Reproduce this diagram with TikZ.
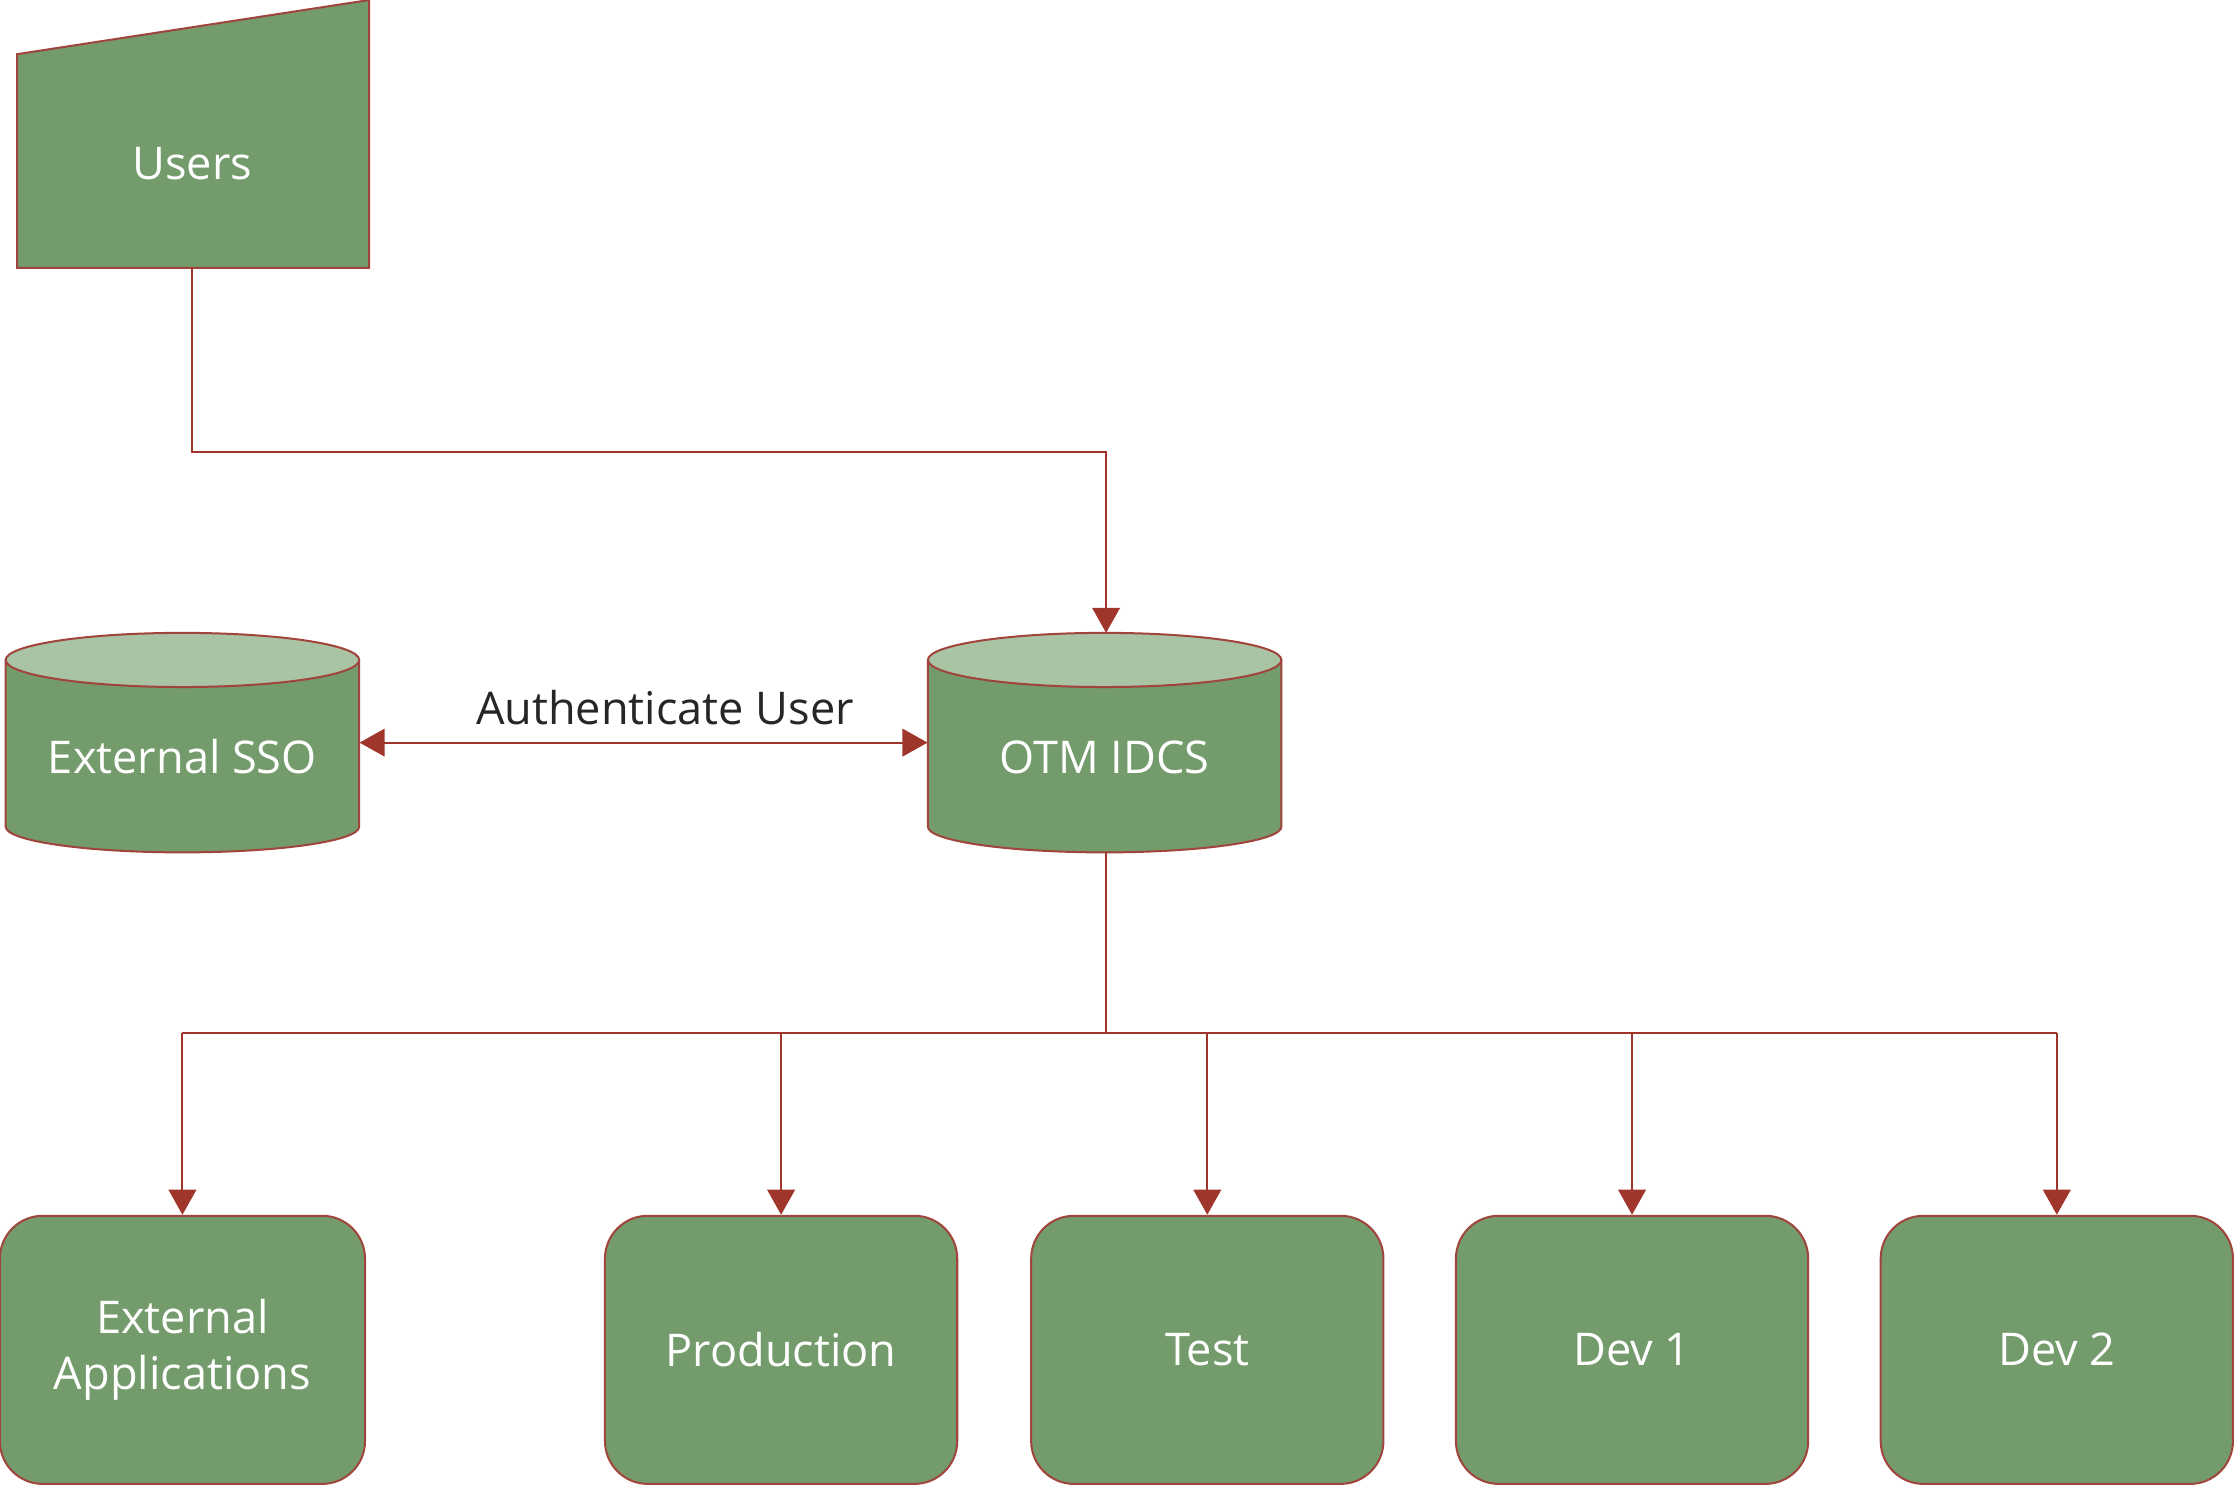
\documentclass[tikz,border=0pt]{standalone}
\usepackage{fontspec}
\setmainfont{Open Sans}
\usetikzlibrary{arrows.meta}
\definecolor{gfill}{HTML}{739B6B}
\definecolor{gtop}{HTML}{A9C4A5}
\definecolor{bord}{HTML}{A0443C}
\definecolor{arr}{HTML}{A0352B}
\tikzset{
  shp/.style={draw=bord,fill=gfill,line width=0.4pt},
  lbl/.style={text=white,font=\fontsize{9}{11}\selectfont,align=center},
  box/.style={shp,rounded corners=0.3cm,minimum width=2.47cm,minimum height=1.88cm,lbl},
  anc/.style={minimum width=2.47cm,minimum height=1.54cm,inner sep=0pt},
  conn/.style={draw=arr,line width=0.4pt},
  tip/.style={-{Triangle[width=5.5pt,length=5pt]}}
}
\begin{document}
\begin{tikzpicture}[x=0.01cm,y=-0.01cm]
\useasboundingbox (0,0) rectangle (1568,1042);
% Users
\draw[shp] (12,38) -- (259,0) -- (259,188) -- (12,188) -- cycle;
\node[lbl] (users) at (135,115) {Users};
\coordinate (ub) at (135,188);
% cylinders
\foreach \cx/\nm/\tx in {128/sso/External SSO,775/otm/OTM IDCS}{
  \draw[shp] (\cx-124,463) -- (\cx-124,580) arc[start angle=180,end angle=0,x radius=124,y radius=18] -- (\cx+124,463);
  \draw[draw=bord,fill=gtop] (\cx,463) ellipse [x radius=124,y radius=19];
  \node[anc] (\nm) at (\cx,521) {};
  \node[lbl] at (\cx,531) {\tx};
}
\coordinate (otmtop) at (776,444);
\coordinate (otmbot) at (776,598);
\draw[conn,tip] (ub) -- (135,317) -| (otmtop);
\draw[conn,{Triangle[width=5.5pt,length=5pt]}-{Triangle[width=5.5pt,length=5pt]}] (sso.east) -- (otm.west)
  node[midway,above=0pt,xshift=0.15cm,text=black!85,font=\fontsize{9}{11}\selectfont] (auth) {Authenticate User};
% boxes
\node[box,minimum width=2.56cm] (ext) at (128,947) {External\\Applications};
\node[box] (prod) at (548,947) {Production};
\node[box] (test) at (847,947) {Test};
\node[box] (dev1) at (1145,947) {Dev 1};
\node[box] (dev2) at (1443,947) {Dev 2};
\coordinate (j) at (776,725);
\draw[conn] (otmbot) -- (j);
\draw[conn] (128,725) -- (1443,725);
\foreach \n in {ext,prod,test,dev1,dev2}{
  \draw[conn,tip] (\n.north |- j) -- (\n.north);
}
\end{tikzpicture}
\end{document}
